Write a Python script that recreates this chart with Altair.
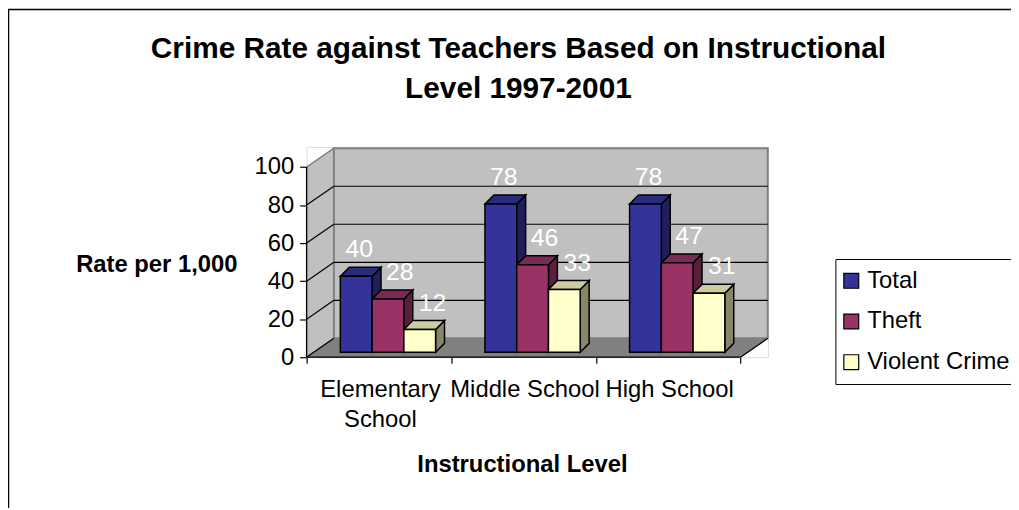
import altair as alt
import pandas as pd

# ---------------- data ----------------
categories = ["Elementary School", "Middle School", "High School"]
cat_labels = ["Elementary\nSchool", "Middle School", "High School"]
series = ["Total", "Theft", "Violent Crime"]
total = [40, 78, 78]
theft = [28, 46, 47]
violent = [12, 33, 31]
y_ticks = [0, 20, 40, 60, 80, 100]
title_lines = ["Crime Rate against Teachers Based on Instructional", "Level 1997-2001"]
y_title = "Rate per 1,000"
x_title = "Instructional Level"

front_colors = ["#333399", "#993366", "#FFFFCC"]
top_colors = ["#2A2A7E", "#7B2A55", "#CCCCA0"]
side_colors = ["#1F1F5C", "#5A1F3D", "#86866A"]

FONT = "Liberation Sans"

# ---------------- geometry (pixels -> data units) ----------------
W, H = 465, 212
XMAX, YMAX = 3.19, 110.6
KX = W / XMAX
KY = H / YMAX
DX0 = 27.5 / KX      # depth of the box
DY0 = 19.0 / KY
BASE = 5.0 / KY      # bars stand slightly back on the floor
BAR_OFF = 34.0 / KX
BAR_W = 32.0 / KX
DDX = 9.0 / KX       # bar depth
DDY = 9.0 / KY
label_dx_px = [3, 12, 13]

values = [total, theft, violent]
front_rows, top_rows, side_rows, label_rows = [], [], [], []
for i, cat in enumerate(categories):
    for j, s in enumerate(series):
        v = values[j][i]
        x0 = i + BAR_OFF + j * BAR_W
        x1 = x0 + BAR_W
        y0, y1 = BASE, BASE + v
        fid = f"{i}-{j}"
        front_rows.append(dict(series=s, category=cat, value=v, x0=x0, x1=x1, y0=y0, y1=y1))
        top_rows += [
            dict(face=fid, col=top_colors[j], y=y1, xa=x0, xb=x1),
            dict(face=fid, col=top_colors[j], y=y1 + DDY, xa=x0 + DDX, xb=x1 + DDX),
        ]
        side_rows += [
            dict(face=fid, col=side_colors[j], x=x1, ya=y0, yb=y1),
            dict(face=fid, col=side_colors[j], x=x1 + DDX, ya=y0 + DDY, yb=y1 + DDY),
        ]
        label_rows.append(dict(x=(x0 + x1) / 2 + label_dx_px[j] / KX, y=y1, text=str(v)))

front_df = pd.DataFrame(front_rows)
top_df = pd.DataFrame(top_rows)
side_df = pd.DataFrame(side_rows)
label_df = pd.DataFrame(label_rows)
cat_df = pd.DataFrame(dict(x=[i + 0.5 + 1.5 / KX for i in range(len(categories))], y=[0] * 3, text=cat_labels))

xs = alt.Scale(domain=[0, XMAX], nice=False, zero=False)
ys = alt.Scale(domain=[0, YMAX], nice=False, zero=False)

# ---------------- walls ----------------
left_wall = alt.Chart(pd.DataFrame(dict(x=[0, DX0], ya=[0, DY0], yb=[100, 100 + DY0]))).mark_area(
    orient="vertical", fill="#C0C0C0", stroke="#808080", strokeWidth=1.5
).encode(x=alt.X("x:Q", scale=xs, axis=None), y=alt.Y("ya:Q", scale=ys, axis=None), y2="yb:Q")

back_wall = alt.Chart(pd.DataFrame(dict(x=[DX0], x2=[3 + DX0], y=[DY0], y2=[100 + DY0]))).mark_rect(
    fill="#C0C0C0", stroke="#808080", strokeWidth=2
).encode(x=alt.X("x:Q", scale=xs, axis=None), x2="x2:Q", y=alt.Y("y:Q", scale=ys, axis=None), y2="y2:Q")

floor = alt.Chart(pd.DataFrame(dict(y=[0, DY0], xa=[0, DX0], xb=[3, 3 + DX0]))).mark_area(
    orient="horizontal", fill="#808080", stroke="#808080", strokeWidth=1
).encode(y=alt.Y("y:Q", scale=ys, axis=None), x=alt.X("xa:Q", scale=xs, axis=None), x2="xb:Q")

grid_v = [t for t in y_ticks if 0 < t < 100]
line_rows = [dict(x=DX0, x2=3 + DX0, y=t + DY0, y2=t + DY0) for t in grid_v]
line_rows += [dict(x=0, x2=DX0, y=t, y2=t + DY0) for t in y_ticks if t < 100]
line_rows.append(dict(x=3, x2=3 + DX0, y=0, y2=DY0))
grid_lines = alt.Chart(pd.DataFrame(line_rows)).mark_rule(color="black", strokeWidth=1.2).encode(
    x=alt.X("x:Q", scale=xs, axis=None), x2="x2:Q", y=alt.Y("y:Q", scale=ys, axis=None), y2="y2:Q"
)

# ---------------- axes ----------------
axis_rows = pd.DataFrame(dict(x=[0, 0], x2=[0, 3], y=[0, 0], y2=[100, 0]))
axes = alt.Chart(axis_rows).mark_rule(color="black", strokeWidth=1.2).encode(
    x=alt.X("x:Q", scale=xs, axis=alt.Axis(
        values=[0, 1, 2, 3], labels=False, domain=False, grid=False, ticks=True, tickSize=6,
        tickColor="black", tickWidth=1.2, title=x_title, titleFont=FONT, titleFontSize=24,
        titleFontWeight="bold", titleColor="black", titleX=217, titleY=108,
        titleBaseline="middle", titleAlign="center")),
    x2="x2:Q",
    y=alt.Y("y:Q", scale=ys, axis=alt.Axis(
        values=y_ticks, domain=False, grid=False, ticks=True, tickSize=7, tickColor="black",
        tickWidth=1.2, labelFont=FONT, labelFontSize=24, labelColor="black", labelPadding=6,
        title=y_title, titleFont=FONT, titleFontSize=24, titleFontWeight="bold", titleColor="black",
        titleAngle=0, titleX=-151.5, titleY=119, titleAlign="center", titleBaseline="middle")),
    y2="y2:Q",
)

# ---------------- bars ----------------
sides = alt.Chart(side_df).mark_area(orient="vertical", stroke="black", strokeWidth=1.5).encode(
    x=alt.X("x:Q", scale=xs, axis=None), y=alt.Y("ya:Q", scale=ys, axis=None), y2="yb:Q",
    fill=alt.Fill("col:N", scale=None), detail="face:N"
)
tops = alt.Chart(top_df).mark_area(orient="horizontal", stroke="black", strokeWidth=1.5).encode(
    y=alt.Y("y:Q", scale=ys, axis=None), x=alt.X("xa:Q", scale=xs, axis=None), x2="xb:Q",
    fill=alt.Fill("col:N", scale=None), detail="face:N"
)
fronts = alt.Chart(front_df).mark_rect(stroke="black", strokeWidth=1.5).encode(
    x=alt.X("x0:Q", scale=xs, axis=None), x2="x1:Q",
    y=alt.Y("y0:Q", scale=ys, axis=None), y2="y1:Q",
    color=alt.Color("series:N", scale=alt.Scale(domain=series, range=front_colors), title=None,
                    legend=alt.Legend(orient="none", legendX=533, legendY=113, direction="vertical",
                                      symbolType="square", symbolSize=225, symbolStrokeColor="black",
                                      symbolStrokeWidth=1.2, symbolOffset=-6, labelFont=FONT,
                                      labelFontSize=24, labelColor="black", labelOffset=4,
                                      rowPadding=17, padding=10, fillColor="white",
                                      strokeColor="black")),
)

labels = alt.Chart(label_df).mark_text(font=FONT, fontSize=25, color="white", baseline="middle", dy=-27).encode(
    x=alt.X("x:Q", scale=xs, axis=None), y=alt.Y("y:Q", scale=ys, axis=None), text="text:N"
)
cat_text = alt.Chart(cat_df).mark_text(font=FONT, fontSize=24, color="black", baseline="top", dy=21,
                                        lineBreak="\n", lineHeight=30).encode(
    x=alt.X("x:Q", scale=xs, axis=None), y=alt.Y("y:Q", scale=ys, axis=None), text="text:N"
)

frame = alt.Chart(pd.DataFrame(dict(a=[1]))).mark_rect(filled=False, stroke="black", strokeWidth=1.5).encode(
    x=alt.value(-300.5), y=alt.value(-138.5), x2=alt.value(W + 400), y2=alt.value(H + 300)
)

title1 = alt.Chart(pd.DataFrame(dict(t=[title_lines[0]]))).mark_text(
    font=FONT, fontSize=30, fontWeight="bold", color="black", baseline="middle", align="center"
).encode(text="t:N", x=alt.value(213.5), y=alt.value(-99))
title2 = alt.Chart(pd.DataFrame(dict(t=[title_lines[1]]))).mark_text(
    font=FONT, fontSize=30, fontWeight="bold", color="black", baseline="middle", align="center"
).encode(text="t:N", x=alt.value(213.5), y=alt.value(-58))

chart = alt.layer(
    frame, title1, title2, left_wall, back_wall, floor, grid_lines, axes, sides, tops, fronts, labels, cat_text
).resolve_axis(x="independent", y="independent").properties(
    width=W, height=H,
    autosize=alt.AutoSizeParams(type="none"),
    padding={"left": 301, "top": 138, "right": 245, "bottom": 150},
).configure_view(stroke=None).configure(background="white")

chart.save("out.html", embed_options={"renderer": "svg", "actions": False})
